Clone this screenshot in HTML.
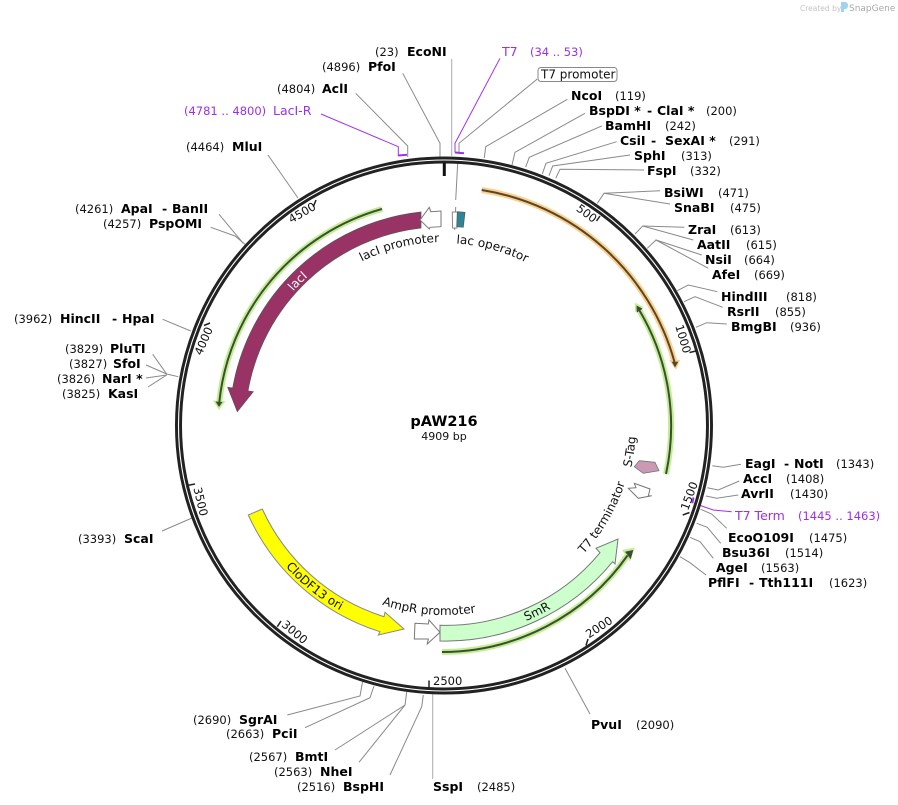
<!DOCTYPE html>
<html><head><meta charset="utf-8">
<style>
html,body{margin:0;padding:0;background:#fff}
svg{display:block}
text{font-family:"DejaVu Sans","Liberation Sans",sans-serif;font-size:11.5px;fill:#111}
.b{font-weight:bold;font-size:12.5px;fill:#000}
.p{fill:#9b30e6;font-size:11.5px}
.pl{fill:#9b30e6;font-size:12.5px}
.f{font-size:12px}
.t{font-size:11.5px}
.l{fill:none;stroke:#8a8a8a;stroke-width:1}
.pu{fill:none;stroke:#a030f0;stroke-width:1}
</style></head><body>
<svg width="898" height="805" viewBox="0 0 898 805" xmlns="http://www.w3.org/2000/svg">
<defs>
<path id="c183" d="M261 425A183 183 0 0 1 627 425"/>
<path id="c182" d="M262 425A182 182 0 0 1 626 425"/>
<path id="c201" d="M242.500 425A201.500 201.500 0 0 1 645.500 425"/>
<path id="b190" d="M254 425A190 190 0 0 0 634 425"/>
<path id="b192" d="M252 425A192 192 0 0 0 636 425"/>
<path id="b212" d="M231.500 425A212.500 212.500 0 0 0 656.500 425"/>
</defs>

<!-- connectors -->
<g class="l">
<polyline style="stroke:#aaa" points="451.700,59 451.700,156"/>
<polyline points="402.700,73.300 440,143.300 440,157"/>
<polyline points="355.700,93.300 407.700,146 407.700,157"/>
<polyline points="537.300,79 459,143.300 459,152"/>
<polyline points="567.300,99.300 485.700,146.700 484.300,158"/>
<polyline points="585,113.300 515,152.300 512,165"/>
<polyline points="601.700,126 529.300,157.300 525.700,167"/>
<polyline points="616.700,141.700 546,163.300 542.300,174"/>
<polyline points="630,155 552.700,166 549,175.700"/>
<polyline points="644,170 560,169.300 555.700,178.300"/>
<polyline points="660,190.700 604,193.300 597.300,203.300"/>
<polyline points="670,204 604,193.300"/>
<polyline points="684.300,227.300 642.700,226 635,234"/>
<polyline points="693.300,240 642.700,226"/>
<polyline points="701.700,255 656,240 647.300,248.300"/>
<polyline points="708.300,268.300 656,240"/>
<polyline points="717.300,291.700 688.300,285 677.300,290.700"/>
<polyline points="722.700,307.300 695,296.700 684,301.700"/>
<polyline points="726.700,324 706.700,322.700 696,327.300"/>
<polyline points="741,464.300 723.300,467.300 712.300,465.700"/>
<polyline points="739.300,481 718.300,490 707.300,487.700"/>
<polyline points="738.300,495 716.700,498.300 706,496"/>
<polyline points="726.700,528.300 711.700,514 700.700,509.300"/>
<polyline points="720.700,543.300 707.300,527.300 696.700,523.300"/>
<polyline points="713.300,558.300 700,541.700 690,537.300"/>
<polyline points="706,575 690,562.700 680,556.700"/>
<polyline points="565,668.300 590,714"/>
<polyline style="stroke:#aaa" points="432.700,694 432.700,779"/>
<polyline points="390,775 421.700,706.700 423.300,695"/>
<polyline points="359,762.300 405,705 406.700,692"/>
<polyline points="335,750 405,705"/>
<polyline points="305,727.700 370,697.700 374,686"/>
<polyline points="287.300,715 360,696 362.500,682"/>
<polyline points="219,214.300 243.300,243.300"/>
<polyline points="210.700,227.300 235,236 245,244.300"/>
<polyline points="268,155 298,198"/>
<polyline points="162.700,319.300 190.700,331"/>
<polyline points="152.700,354.300 166.700,374 178.300,376.700"/>
<polyline points="146,365 166.700,374"/>
<polyline points="146,378 166.700,375"/>
<polyline points="148,387 166.700,375"/>
<polyline points="162,531 192,518"/>
<polyline points="457.700,163 455.700,200"/>
<polyline points="455.700,207 454.700,230"/>
</g>
<g class="pu">
<polyline points="321,114 398.300,146.700 398.300,156"/>
<polyline style="stroke-width:2" points="398.300,155.500 407,154.700"/>
<polyline points="500,58.300 455,143.300 455,152.500"/>
<polyline style="stroke-width:2" points="455,152.500 464,153.200"/>
<polyline points="731.700,511.700 713.300,510 701.700,506 696,503"/>
<polyline style="stroke-width:2" points="693.500,497.500 692.300,503.300"/>
</g>

<!-- backbone -->
<circle cx="444" cy="425.500" r="265.500" fill="none" stroke="#222" stroke-width="7"/>
<circle cx="444" cy="425.500" r="265.500" fill="none" stroke="#fff" stroke-width="1.100"/>

<!-- ticks -->
<line x1="444.300" y1="163" x2="444.300" y2="176" stroke="#111" stroke-width="3"/>
<g stroke="#222" stroke-width="1.500" fill="none">
<line x1="600" y1="216" x2="596.500" y2="221"/>
<line x1="696" y1="351" x2="689.500" y2="352.500"/>
<line x1="682.700" y1="515" x2="689.500" y2="512.500"/>
<line x1="588" y1="639" x2="586" y2="645.500"/>
<line x1="429" y1="688.500" x2="429" y2="680.500"/>
<line x1="277.300" y1="626.700" x2="281" y2="621"/>
<line x1="187" y1="485.500" x2="195" y2="484"/>
<line x1="204" y1="325.500" x2="210" y2="323"/>
<line x1="313.300" y1="206.700" x2="316" y2="200"/>
</g>
<text class="t" transform="translate(593.100,223.100) rotate(36.700)" text-anchor="end">500</text>
<text class="t" transform="translate(683.500,354) rotate(73.300)" text-anchor="end">1000</text>
<text class="t" transform="translate(688,511) rotate(-70)">1500</text>
<text class="t" transform="translate(589,638.500) rotate(-33.300)">2000</text>
<text class="t" x="433" y="685">2500</text>
<text class="t" transform="translate(280.900,625.800) rotate(40)">3000</text>
<text class="t" transform="translate(193.400,488.300) rotate(76.700)">3500</text>
<text class="t" transform="translate(201.500,356) rotate(-66.700)">4000</text>
<text class="t" transform="translate(291.400,223.500) rotate(-30)">4500</text>

<!-- primers -->
<g fill="none" stroke="#bff08e" stroke-width="6">
<path d="M382 209A225 225 0 0 0 219.300 402"/>
<path d="M666 474A227 227 0 0 0 639.500 310.500"/>
<path d="M442 652A227 227 0 0 0 627.500 555.500"/>
</g>
<path d="M481.700 190A238.500 238.500 0 0 1 674.500 362" fill="none" stroke="#fcd08a" stroke-width="6"/>
<polygon points="213,400.500 225.500,401 219,410" fill="#bff08e"/>
<polygon points="635.100,312.400 643.500,307 635,302.700" fill="#bff08e"/>
<polygon points="622,550 630,561.500 635,547.500" fill="#bff08e"/>
<polygon points="669,360 680,360 676,370" fill="#fcd08a"/>
<g fill="none" stroke="#404a38" stroke-width="2">
<path d="M382 209A225 225 0 0 0 219.300 402"/>
<path d="M666 474A227 227 0 0 0 639.500 310.500"/>
<path d="M442 652A227 227 0 0 0 627.500 555.500"/>
</g>
<path d="M481.700 190A238.500 238.500 0 0 1 674.500 362" fill="none" stroke="#55462c" stroke-width="2"/>
<polygon points="215.500,401.500 222.500,402 219,407" fill="#404a38"/>
<polygon points="636.800,312.500 642.700,308.700 636.500,305.500" fill="#404a38"/>
<polygon points="625,551.700 630.700,559.300 633.300,550" fill="#404a38"/>
<polygon points="671.700,361.700 678.300,361.700 675,367.500" fill="#55462c"/>

<!-- features -->
<path d="M421 212A214.500 214.500 0 0 0 232.700 388L227.700 387.300 237.300 411.700 253.300 391.700 248 391A198.500 198.500 0 0 1 421 228Z" fill="#993366" stroke="#555" stroke-width=".7"/>
<path d="M440 641A216 216 0 0 0 612.700 561.700L615 564 618 539 596 548.300 600 552.700A200 200 0 0 1 440 625.300Z" fill="#ccffcc" stroke="#777" stroke-width="1"/>
<path d="M248.300 515A216 216 0 0 0 380 631.700L378.300 635 404 629 385 612.300 384 616.700A200 200 0 0 1 262.300 509Z" fill="#ffff00" stroke="#888" stroke-width="1"/>
<polygon points="415,623.300 428.300,624 429,620 440,632.300 427.300,644 428.300,639 414.300,639" fill="#fff" stroke="#777" stroke-width="1"/>
<polygon points="420,220 429.300,207.300 430.700,211.700 441,211 441,226.700 430,227.300 429.300,229" fill="#fff" stroke="#777" stroke-width="1"/>
<polygon points="452.300,212 458,212 457,228 452.600,228" fill="#fff" stroke="#888" stroke-width="1"/>
<polygon points="457.300,211.700 465,212.300 463.300,227.300 456.700,226.700" fill="#2f8498" stroke="#555" stroke-width=".7"/>
<polygon points="639.300,460.700 655,462.300 659,470.700 643.300,473.300 634.300,466.700" fill="#cc99b5" stroke="#777" stroke-width=".8"/>
<polygon points="634.300,483.300 650,489 648.300,496 651.700,495.700 638.300,498.300 628.300,488.300 636,487.700" fill="#fff" stroke="#777" stroke-width="1"/>

<!-- feature labels -->
<text class="f"><textPath href="#c183" startOffset="202">lacI promoter</textPath></text>
<text class="f"><textPath href="#c182" startOffset="298">lac operator</textPath></text>
<text class="f" style="fill:#fff"><textPath href="#c201" startOffset="146">lacI</textPath></text>
<text class="f"><textPath href="#b190" startOffset="235">AmpR promoter</textPath></text>
<text class="f"><textPath href="#b190" startOffset="455">T7 terminator</textPath></text>
<text class="f"><textPath href="#b192" startOffset="560">S-Tag</textPath></text>
<text class="f"><textPath href="#b212" startOffset="418">SmR</textPath></text>
<text class="f"><textPath href="#b212" startOffset="155">CloDF13 ori</textPath></text>

<!-- center -->
<text x="444" y="426" text-anchor="middle" style="font-weight:bold;font-size:14.500px;fill:#000">pAW216</text>
<text x="444" y="440" text-anchor="middle" style="font-size:11px">4909 bp</text>

<!-- site labels -->
<text x="375" y="56">(23)</text><text class="b" x="407" y="56">EcoNI</text>
<text x="322" y="71">(4896)</text><text class="b" x="368" y="71">PfoI</text>
<text x="277" y="93">(4804)</text><text class="b" x="322" y="93">AclI</text>
<text class="p" x="184" y="115">(4781 .. 4800)</text><text class="pl" x="273" y="115">LacI-R</text>
<text x="186" y="151">(4464)</text><text class="b" x="232" y="151">MluI</text>
<text x="75" y="213">(4261)</text><text class="b" x="121" y="213">ApaI</text><text class="b" x="162" y="213">-</text><text class="b" x="172" y="213">BanII</text>
<text x="103" y="228">(4257)</text><text class="b" x="149" y="228">PspOMI</text>
<text x="14" y="323">(3962)</text><text class="b" x="60" y="323">HincII</text><text class="b" x="112" y="323">-</text><text class="b" x="122" y="323">HpaI</text>
<text x="65" y="353">(3829)</text><text class="b" x="110" y="353">PluTI</text>
<text x="69" y="368">(3827)</text><text class="b" x="113" y="368">SfoI</text>
<text x="57" y="383">(3826)</text><text class="b" x="102" y="383">NarI *</text>
<text x="62" y="398">(3825)</text><text class="b" x="108" y="398">KasI</text>
<text x="78" y="543">(3393)</text><text class="b" x="124" y="543">ScaI</text>
<text x="193" y="724">(2690)</text><text class="b" x="239" y="724">SgrAI</text>
<text x="226" y="738">(2663)</text><text class="b" x="272" y="738">PciI</text>
<text x="249" y="761">(2567)</text><text class="b" x="295" y="761">BmtI</text>
<text x="274" y="776">(2563)</text><text class="b" x="320" y="776">NheI</text>
<text x="297" y="791">(2516)</text><text class="b" x="343" y="791">BspHI</text>
<text class="b" x="433" y="791">SspI</text><text x="477" y="791">(2485)</text>
<text class="b" x="591" y="729">PvuI</text><text x="636" y="729">(2090)</text>
<text class="pl" x="502" y="56">T7</text><text class="p" x="530" y="56">(34 .. 53)</text>
<rect x="538" y="67.500" width="79" height="14" rx="3" fill="#fff" stroke="#888" stroke-width="1"/>
<text x="541" y="78.500" style="font-size:12px">T7 promoter</text>
<text class="b" x="571" y="100">NcoI</text><text x="615" y="100">(119)</text>
<text class="b" x="589" y="115">BspDI *</text><text class="b" x="647" y="115">-</text><text class="b" x="657" y="115">ClaI *</text><text x="706" y="115">(200)</text>
<text class="b" x="605" y="130">BamHI</text><text x="665" y="130">(242)</text>
<text class="b" x="620" y="145">CsiI</text><text class="b" x="651" y="145">-</text><text class="b" x="665" y="145">SexAI *</text><text x="729" y="145">(291)</text>
<text class="b" x="634" y="160">SphI</text><text x="681" y="160">(313)</text>
<text class="b" x="647" y="175">FspI</text><text x="690" y="175">(332)</text>
<text class="b" x="664" y="197">BsiWI</text><text x="718" y="197">(471)</text>
<text class="b" x="674" y="212">SnaBI</text><text x="730" y="212">(475)</text>
<text class="b" x="688" y="234">ZraI</text><text x="730" y="234">(613)</text>
<text class="b" x="697" y="249">AatII</text><text x="746" y="249">(615)</text>
<text class="b" x="705" y="264">NsiI</text><text x="744" y="264">(664)</text>
<text class="b" x="712" y="279">AfeI</text><text x="754" y="279">(669)</text>
<text class="b" x="721" y="301">HindIII</text><text x="786" y="301">(818)</text>
<text class="b" x="727" y="316">RsrII</text><text x="775" y="316">(855)</text>
<text class="b" x="731" y="331">BmgBI</text><text x="790" y="331">(936)</text>
<text class="b" x="745" y="468">EagI</text><text class="b" x="784" y="468">-</text><text class="b" x="794" y="468">NotI</text><text x="836" y="468">(1343)</text>
<text class="b" x="743" y="483">AccI</text><text x="786" y="483">(1408)</text>
<text class="b" x="741" y="498">AvrII</text><text x="790" y="498">(1430)</text>
<text class="pl" x="735" y="520">T7 Term</text><text class="p" x="798" y="520">(1445 .. 1463)</text>
<text class="b" x="728" y="542">EcoO109I</text><text x="809" y="542">(1475)</text>
<text class="b" x="722" y="557">Bsu36I</text><text x="785" y="557">(1514)</text>
<text class="b" x="716" y="572">AgeI</text><text x="761" y="572">(1563)</text>
<text class="b" x="708" y="587">PflFI</text><text class="b" x="749" y="587">-</text><text class="b" x="759" y="587">Tth111I</text><text x="829" y="587">(1623)</text>

<!-- watermark -->
<text x="800" y="11" style="font-size:7.500px;fill:#c4c4c4">Created by</text>
<path d="M841 2h5a4 4 0 0 1 0 7h-2v3h-3z" fill="#9fd4ee"/>
<text x="849" y="11" style="font-size:9px;fill:#a8a8a8">SnapGene</text>
</svg>
</body></html>
